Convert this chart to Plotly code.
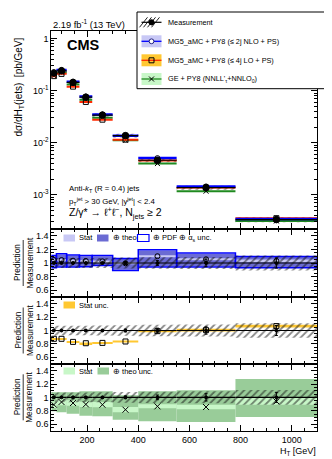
import numpy as np
import plotly.graph_objects as go

W, H = 332, 459
FONT = "Liberation Sans, Arial, sans-serif"

# H_T binning [GeV]
edges = [60, 80, 120, 170, 220, 300, 400, 550, 780, 1100]

# measured dsigma/dHT [pb/GeV] and relative uncertainties
meas = [0.217, 0.240, 0.144, 0.075, 0.034, 0.0137, 0.0046, 0.00137, 0.000333]
meas_stat = [0.005, 0.005, 0.008, 0.01, 0.012, 0.02, 0.035, 0.055, 0.075]
meas_tot = [0.075, 0.072, 0.072, 0.072, 0.075, 0.08, 0.085, 0.09, 0.11]

# MG5_aMC + PY8 (<= 2j NLO + PS), prediction / measurement
nlo_ratio = [1.045, 1.044, 1.034, 1.03, 1.025, 0.995, 1.10, 1.055, 1.03]
nlo_stat = [0.012, 0.012, 0.012, 0.012, 0.012, 0.015, 0.015, 0.015, 0.02]
nlo_theo_lo = [0.94, 0.95, 0.95, 0.955, 0.97, 0.90, 0.95, 0.95, 0.94]
nlo_theo_hi = [1.10, 1.125, 1.108, 1.10, 1.10, 1.06, 1.185, 1.137, 1.087]
nlo_pdf_lo = [0.93, 0.94, 0.94, 0.945, 0.965, 0.89, 0.94, 0.94, 0.93]
nlo_pdf_hi = [1.112, 1.137, 1.118, 1.11, 1.11, 1.068, 1.196, 1.147, 1.097]

# MG5_aMC + PY8 (<= 4j LO + PS)
lo_ratio = [0.876, 0.876, 0.83, 0.81, 0.815, 0.836, 0.99, 1.005, 1.066]
lo_stat = [0.01, 0.01, 0.01, 0.012, 0.012, 0.015, 0.015, 0.02, 0.02]

# GE + PY8 (NNLL'_tau + NNLO_0)
ge_ratio = [0.89, 0.93, 0.915, 0.895, 0.89, 0.815, 0.865, 0.855, 0.94]
ge_stat = [0.05, 0.05, 0.04, 0.04, 0.04, 0.04, 0.03, 0.035, 0.05]
ge_theo_lo = [0.79, 0.775, 0.755, 0.725, 0.715, 0.665, 0.64, 0.63, 0.705]
ge_theo_hi = [1.075, 1.075, 1.075, 1.09, 1.09, 1.03, 1.09, 1.105, 1.275]

e = np.array(edges, float)
xc = (e[:-1] + e[1:]) / 2
wd = e[1:] - e[:-1]
hw = wd / 2
meas_a = np.array(meas)
one = meas_a / meas_a

C_NLO_STAT, C_NLO_THEO, C_NLO_LINE = "#c8c8f5", "#6b6bd3", "#0000ff"
C_LO_STAT, C_LO_LINE = "#ffc832", "#ff2a00"
C_GE_STAT, C_GE_THEO, C_GE_LINE = "#c8f7c8", "#99cc99", "#1f8a1f"


def box(lo, hi, xa, ya, color="rgba(0,0,0,0)", line=None, pattern=None):
    lo = np.asarray(lo, float)
    hi = np.asarray(hi, float)
    mk = dict(color=color, line=line or dict(width=0))
    if pattern:
        mk["pattern"] = pattern
    return go.Bar(x=xc, y=hi - lo, base=lo, width=wd, marker=mk, xaxis=xa, yaxis=ya,
                  showlegend=False, hoverinfo="skip")


def hatch(lo, hi, xa, ya):
    return box(lo, hi, xa, ya, pattern=dict(shape="/", fgcolor="#111111",
                                            bgcolor="rgba(0,0,0,0)", size=5, solidity=0.35))


def seg(y, xa, ya, color, lw, symbol=None, msize=6, ey=None):
    tr = go.Scatter(x=xc, y=y, xaxis=xa, yaxis=ya, showlegend=False, hoverinfo="skip",
                    mode="markers" if symbol else "lines",
                    error_x=dict(type="data", array=hw, color=color, thickness=lw, width=0))
    if symbol:
        tr.marker = dict(symbol=symbol, size=msize, color="black",
                         line=dict(color="black", width=1))
    if ey is not None:
        tr.error_y = dict(type="data", array=ey, color="black", thickness=1, width=1.5)
    return tr


fig = go.Figure()

# ---- main panel
fig.add_trace(hatch(meas_a * (1 - np.array(meas_tot)), meas_a * (1 + np.array(meas_tot)), "x", "y"))
fig.add_trace(seg(meas_a * np.array(ge_ratio), "x", "y", C_GE_LINE, 2, "x-thin-open", 5))
fig.add_trace(seg(meas_a * np.array(lo_ratio), "x", "y", C_LO_LINE, 2, "square-open", 5))
fig.add_trace(seg(meas_a * np.array(nlo_ratio), "x", "y", C_NLO_LINE, 2.5, "circle-open", 5))
fig.add_trace(seg(meas_a, "x", "y", "black", 1.2, "circle", 6.5, ey=meas_a * np.array(meas_stat)))

# ---- ratio 1 : NLO
nr = np.array(nlo_ratio)
fig.add_trace(box(nlo_theo_lo, nlo_theo_hi, "x2", "y2", color=C_NLO_THEO))
fig.add_trace(box(nr - np.array(nlo_stat), nr + np.array(nlo_stat), "x2", "y2", color=C_NLO_STAT))
fig.add_trace(box(nlo_pdf_lo, nlo_pdf_hi, "x2", "y2", line=dict(color=C_NLO_LINE, width=1.5)))
fig.add_trace(hatch(one - np.array(meas_tot), one + np.array(meas_tot), "x2", "y2"))
fig.add_trace(seg(one, "x2", "y2", "black", 1.2, "circle", 3, ey=np.array(meas_stat)))
fig.add_trace(seg(nr, "x2", "y2", "black", 0, "circle-open", 5))

# ---- ratio 2 : LO
lr = np.array(lo_ratio)
fig.add_trace(box(lr - np.array(lo_stat), lr + np.array(lo_stat), "x3", "y3", color=C_LO_STAT))
fig.add_trace(hatch(one - np.array(meas_tot), one + np.array(meas_tot), "x3", "y3"))
fig.add_trace(seg(one, "x3", "y3", "black", 1.2, "circle", 3, ey=np.array(meas_stat)))
fig.add_trace(seg(lr, "x3", "y3", "black", 0, "square-open", 5))

# ---- ratio 3 : GE
gr = np.array(ge_ratio)
fig.add_trace(box(ge_theo_lo, ge_theo_hi, "x4", "y4", color=C_GE_THEO))
fig.add_trace(box(gr - np.array(ge_stat), gr + np.array(ge_stat), "x4", "y4", color=C_GE_STAT))
fig.add_trace(hatch(one - np.array(meas_tot), one + np.array(meas_tot), "x4", "y4"))
fig.add_trace(seg(one, "x4", "y4", "black", 1.2, "circle", 3, ey=np.array(meas_stat)))
fig.add_trace(seg(gr, "x4", "y4", "black", 0, "x-thin-open", 6))


def X(p):
    return p / W


def Y(p):
    return 1 - p / H


xdom = [X(43.3), X(309.3)]
tickfont = dict(family=FONT, size=9, color="black")
xcommon = dict(domain=xdom, range=[60, 1100], tick0=0, dtick=200, ticks="inside", ticklen=6,
               minor=dict(ticks="inside", dtick=50, ticklen=3, tickcolor="black"),
               showline=True, linecolor="black", linewidth=1, mirror="ticks",
               showgrid=False, zeroline=False, tickfont=tickfont, tickcolor="black")
rcommon = dict(range=[0.5, 1.5], tickvals=[0.6, 0.8, 1, 1.2, 1.4],
               ticktext=["0.6", "0.8", "1", "1.2", "1.4"], ticks="inside", ticklen=6,
               minor=dict(ticks="inside", dtick=0.05, tick0=0.5, ticklen=3, tickcolor="black"),
               showline=True, linecolor="black", linewidth=1, mirror="ticks",
               showgrid=False, zeroline=False, tickfont=tickfont, tickcolor="black")

minor_log = [k * 10.0 ** p for p in range(-4, 1) for k in range(2, 10)]
fig.update_layout(
    width=W, height=H, margin=dict(l=0, r=0, t=0, b=0),
    paper_bgcolor="white", plot_bgcolor="rgba(0,0,0,0)",
    barmode="overlay", showlegend=False, font=dict(family=FONT, color="black"),
    xaxis=dict(xcommon, anchor="y", showticklabels=False),
    yaxis=dict(domain=[Y(221), Y(23)], type="log", range=[np.log10(2.2e-4), np.log10(1.4)],
               tickvals=[1e-3, 1e-2, 1e-1, 1],
               ticktext=["10<sup>-3</sup>", "10<sup>-2</sup>", "10<sup>-1</sup>", "1"],
               ticks="inside", ticklen=6,
               minor=dict(ticks="inside", tickvals=minor_log, ticklen=3, tickcolor="black"),
               showline=True, linecolor="black", linewidth=1, mirror="ticks",
               showgrid=False, zeroline=False, tickfont=tickfont, tickcolor="black", anchor="x"),
    xaxis2=dict(xcommon, anchor="y2", showticklabels=False, matches="x"),
    yaxis2=dict(rcommon, domain=[Y(289), Y(221)], anchor="x2"),
    xaxis3=dict(xcommon, anchor="y3", showticklabels=False, matches="x"),
    yaxis3=dict(rcommon, domain=[Y(356), Y(289)], anchor="x3"),
    xaxis4=dict(xcommon, anchor="y4", matches="x"),
    yaxis4=dict(rcommon, domain=[Y(422.7), Y(356)], anchor="x4"),
)

shapes = []
ann = []


def text(x, y, s, size=7.5, anchor="left", angle=0, **kw):
    ann.append(dict(x=X(x), y=Y(y), xref="paper", yref="paper", text=s, showarrow=False,
                    xanchor=anchor, yanchor="middle", textangle=angle,
                    font=dict(family=FONT, size=size, color="black"), **kw))


def rect(x0, y0, x1, y1, fill, line="rgba(0,0,0,0)", lw=0):
    shapes.append(dict(type="rect", xref="paper", yref="paper", x0=X(x0), x1=X(x1),
                       y0=Y(y1), y1=Y(y0), fillcolor=fill, line=dict(color=line, width=lw),
                       layer="above"))


def line(x0, y0, x1, y1, color="black", lw=1):
    shapes.append(dict(type="line", xref="paper", yref="paper", x0=X(x0), x1=X(x1),
                       y0=Y(y0), y1=Y(y1), line=dict(color=color, width=lw), layer="above"))


def circ(xm, ym, r, fill, color="black"):
    shapes.append(dict(type="circle", xref="paper", yref="paper", x0=X(xm - r), x1=X(xm + r),
                       y0=Y(ym + r), y1=Y(ym - r), fillcolor=fill,
                       line=dict(color=color, width=1), layer="above"))


# main legend
rect(129, 4, 319.3, 80.7, "white", "black", 1)
rows = [14.3, 33.3, 52.3, 71.0]
sx0, sx1 = 133.5, 153.5
for k in range(4):
    line(sx0 + 4 * k - 2, rows[0] + 5, sx0 + 4 * k + 6, rows[0] - 5, "#222222", 1)
line(sx0, rows[0], sx1, rows[0], "black", 1.2)
circ(143.5, rows[0], 2.6, "black")
rect(sx0, rows[1] - 6, sx1, rows[1] + 6, C_NLO_STAT)
line(sx0, rows[1], sx1, rows[1], C_NLO_LINE, 1.3)
circ(143.5, rows[1], 2.4, "white", "#202080")
rect(sx0, rows[2] - 6, sx1, rows[2] + 6, C_LO_STAT)
line(sx0, rows[2], sx1, rows[2], C_LO_LINE, 1.3)
rect(141, rows[2] - 2.5, 146, rows[2] + 2.5, "rgba(0,0,0,0)", "black", 1)
rect(sx0, rows[3] - 6, sx1, rows[3] + 6, C_GE_STAT)
line(sx0, rows[3], sx1, rows[3], C_GE_LINE, 1.3)
line(141, rows[3] - 2.5, 146, rows[3] + 2.5)
line(141, rows[3] + 2.5, 146, rows[3] - 2.5)
text(158, rows[0], "Measurement", 7.3)
text(158, rows[1], "MG5_aMC + PY8 (≤ 2j NLO + PS)", 7.3)
text(158, rows[2], "MG5_aMC + PY8 (≤ 4j LO + PS)", 7.3)
text(158, rows[3], "GE + PY8 (NNLL'<sub>τ</sub>+NNLO<sub>0</sub>)", 7.3)

# ratio legends
rect(55.5, 226.5, 67, 233.5, C_NLO_STAT)
text(69, 230, "Stat", 7.5)
rect(89, 226.5, 100.5, 233.5, C_NLO_THEO)
text(102.5, 230, "⊕ theo", 7.5)
rect(129.5, 226.5, 141, 233.5, "white", C_NLO_LINE, 1.2)
text(143, 230, "⊕ PDF ⊕ α<sub>s</sub> unc.", 7.5)
rect(55.5, 293.5, 67, 300.5, C_LO_STAT)
text(69, 297, "Stat unc.", 7.5)
rect(55.5, 359.5, 67, 366.5, C_GE_STAT)
text(69, 363, "Stat", 7.5)
rect(89.5, 359.5, 101, 366.5, C_GE_THEO)
text(103, 363, "⊕ theo unc.", 7.5)

# labels
text(57, 37, "<b>CMS</b>", 14.5)
text(42.5, 16.5, "2.19 fb<sup>-1</sup> (13 TeV)", 9.3)
text(59, 180.5, "Anti-<i>k</i><sub>T</sub> (R = 0.4) jets", 7.8)
text(59, 193, "p<sub>T</sub><sup>jet</sup> > 30 GeV, |y<sup>jet</sup>| < 2.4", 7.8)
text(59, 205.5, "Z/γ* → ℓ<sup>+</sup>ℓ<sup>−</sup>, N<sub>jets</sub> ≥ 2", 10.5)
text(10.5, 79, "dσ/dH<sub>T</sub>(jets)  [pb/GeV]", 10, anchor="center", angle=-90)
text(309.5, 443, "H<sub>T</sub> [GeV]", 9, anchor="right")
for yc in [255.0, 322.5, 389.3]:
    text(9, yc, "Prediction", 8.3, anchor="center", angle=-90)
    text(21.5, yc, "Measurement", 8.3, anchor="center", angle=-90)
    line(15.2, yc - 23, 15.2, yc + 23, "black", 0.8)

fig.update_layout(shapes=shapes, annotations=ann)
fig.write_html("out.html")
